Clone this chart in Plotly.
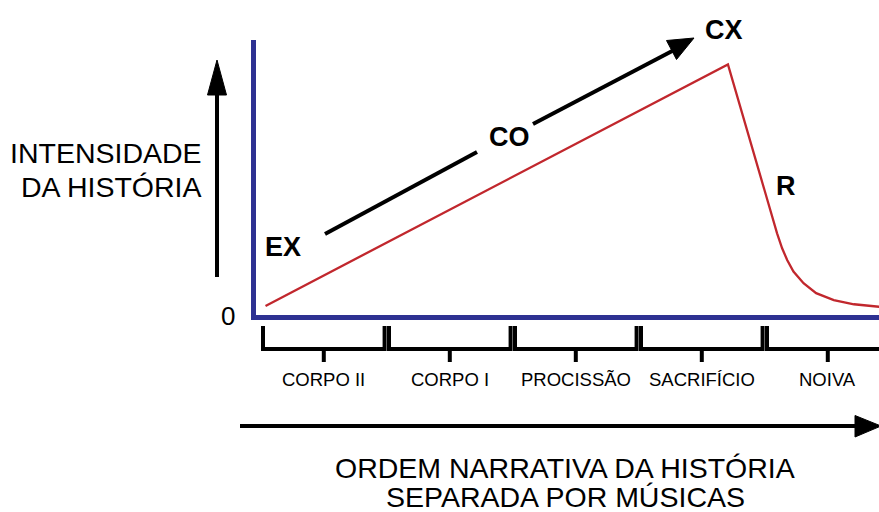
import plotly.graph_objects as go

# ---------------- data ----------------
narrative_pos = [0.02, 3.69, 4.08, 4.12, 4.16, 4.21, 4.29, 4.39, 4.53, 4.69, 4.89]
intensity = [0.40, 9.12, 3.02, 2.48, 2.06, 1.64, 1.22, 0.86, 0.61, 0.46, 0.37]

songs = ["CORPO II", "CORPO I", "PROCISSÃO", "SACRIFÍCIO", "NOIVA"]
song_start = [0, 1, 2, 3, 4]
song_span = 0.965

phase_labels = ["EX", "CO", "CX", "R"]

y_label = ["INTENSIDADE", "DA HISTÓRIA"]
x_label = ["ORDEM NARRATIVA DA HISTÓRIA", "SEPARADA POR MÚSICAS"]

# ---------------- layout helpers ----------------
W, H = 879, 512
L, R, T, B = 256, 879, 40, 315
FONT = "Liberation Sans, Arial, sans-serif"
BLUE = "#2e3192"
RED = "#c1272d"


def px(x):
    return (x - L) / (R - L)


def py(y):
    return (B - y) / (B - T)


x_range = [(L - 263) / 126, (R - 263) / 126]
y_range = [(317 - B) / 27.7, (317 - T) / 27.7]

fig = go.Figure()
fig.add_trace(go.Scatter(
    x=narrative_pos, y=intensity, mode="lines",
    line=dict(color=RED, width=2.3), hoverinfo="skip", showlegend=False,
))

shapes = []
annotations = []

# brackets for each song
for name, s in zip(songs, song_start):
    e = s + song_span
    c = s + song_span / 2
    shapes.append(dict(
        type="path", xref="x", yref="paper",
        path=f"M {s},{py(326)} L {s},{py(349)} L {e},{py(349)} L {e},{py(326)}",
        line=dict(color="black", width=4),
    ))
    shapes.append(dict(
        type="line", xref="x", yref="paper",
        x0=c, x1=c, y0=py(349), y1=py(362),
        line=dict(color="black", width=4),
    ))
    annotations.append(dict(
        x=c, y=py(379), xref="x", yref="paper", text=name, showarrow=False,
        font=dict(family=FONT, size=18.5, color="black"),
        xanchor="center", yanchor="middle",
    ))


def line_px(x0, y0, x1, y1, w=4):
    shapes.append(dict(type="line", xref="paper", yref="paper",
                       x0=px(x0), y0=py(y0), x1=px(x1), y1=py(y1),
                       line=dict(color="black", width=w)))


def tri_px(pts):
    p = "M " + " L ".join(f"{px(a)},{py(b)}" for a, b in pts) + " Z"
    shapes.append(dict(type="path", xref="paper", yref="paper", path=p,
                       fillcolor="black", line=dict(color="black", width=1)))


# vertical arrow (intensity)
line_px(217, 277, 217, 90)
tri_px([(217, 60), (207.5, 95), (226.5, 95)])

# horizontal arrow (narrative order)
line_px(240, 426, 858, 426)
tri_px([(855, 415.5), (855, 437), (881, 426)])

# diagonal arrow with gap around CO
line_px(325, 234, 477, 152)
line_px(533, 124, 676, 49)
tri_px([(694, 38), (676.5, 59.5), (666.5, 40.5)])

# phase labels
phase_pos = [(283, 247), (509, 137), (724, 30), (786, 186)]
for t, (x, y) in zip(phase_labels, phase_pos):
    annotations.append(dict(
        x=px(x), y=py(y), xref="paper", yref="paper", text=f"<b>{t}</b>",
        showarrow=False, font=dict(family=FONT, size=27, color="black"),
        xanchor="center", yanchor="middle",
    ))

# zero label
annotations.append(dict(x=px(228), y=py(316), xref="paper", yref="paper",
                        text="0", showarrow=False,
                        font=dict(family=FONT, size=26, color="black"),
                        xanchor="center", yanchor="middle"))

# y-axis title
for t, y in zip(y_label, [153, 187]):
    annotations.append(dict(x=px(204), y=py(y), xref="paper", yref="paper",
                            text=t, showarrow=False,
                            font=dict(family=FONT, size=28.5, color="black"),
                            xanchor="right", yanchor="middle"))

# x-axis title
for t, y in zip(x_label, [468, 497]):
    annotations.append(dict(x=px(565), y=py(y), xref="paper", yref="paper",
                            text=t, showarrow=False,
                            font=dict(family=FONT, size=28.5, color="black"),
                            xanchor="center", yanchor="middle"))

fig.update_layout(
    width=W, height=H,
    margin=dict(l=L, r=W - R, t=T, b=H - B, pad=0),
    paper_bgcolor="white", plot_bgcolor="white",
    showlegend=False,
    shapes=shapes, annotations=annotations,
    xaxis=dict(range=x_range, showgrid=False, zeroline=False, showticklabels=False,
               ticks="", showline=True, linecolor=BLUE, linewidth=5, fixedrange=True),
    yaxis=dict(range=y_range, showgrid=False, zeroline=False, showticklabels=False,
               ticks="", showline=True, linecolor=BLUE, linewidth=5, fixedrange=True),
)

fig.write_html(
    "out.html",
    config={"displayModeBar": False},
    post_script="document.body.style.margin='0';document.body.style.overflow='hidden';",
)
